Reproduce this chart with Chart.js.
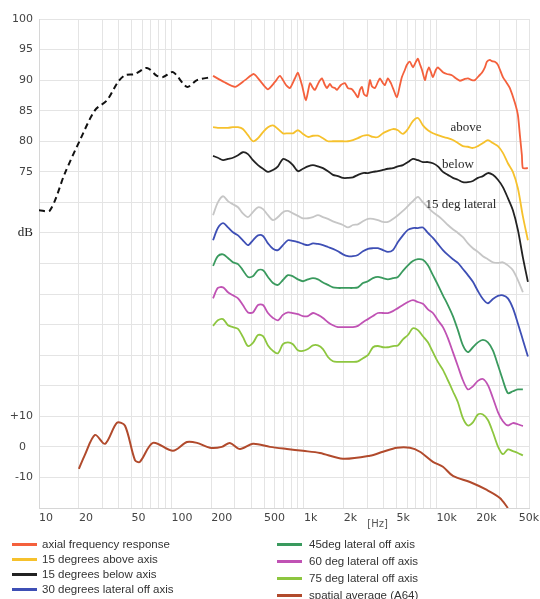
<!DOCTYPE html>
<html>
<head>
<meta charset="utf-8">
<script src="https://cdn.jsdelivr.net/npm/chart.js@4.4.1/dist/chart.umd.min.js"></script>
<style>
  body { margin: 0; background: #fff; }
  #wrap { position: relative; width: 540px; height: 599px; overflow: hidden; }
  #chart { position: absolute; left: 0; top: 0; }
  .legend-col { position: absolute; font: 11.5px 'Liberation Sans', Arial, sans-serif; color: #333; }
  .legend-item { display: flex; align-items: center; white-space: nowrap; }
  .swatch { display: inline-block; width: 25px; height: 3px; }
</style>
</head>
<body>
<div id="wrap">
  <canvas id="chart" width="540" height="599"></canvas>
  <div id="legend-left" class="legend-col" style="left:12px; top:537px; line-height:15px;"></div>
  <div id="legend-right" class="legend-col" style="left:277px; top:536px; line-height:17px;"></div>
</div>
<script>
// low frequency part (dashed, no label)
const lowFreq = [10, 12.1, 15.7, 20.4, 26.5, 32.6, 39.5, 44.6, 53, 65.3, 77.7, 86.3, 102.6, 130.9, 155.8, 202];
const lowDb = [68.7, 68.7, 74.8, 80.2, 85.1, 86.7, 89.7, 90.8, 91.0, 92.0, 90.7, 90.5, 91.3, 88.9, 90.0, 90.5];

// axial response, own sampling (lots of ripple)
const axialFreq = [206, 249, 302, 359, 419, 482, 535, 604, 659, 732,
  784, 855, 901, 966, 1035, 1110, 1170, 1211, 1298, 1367,
  1440, 1492, 1571, 1627, 1714, 1775, 1902, 2039, 2149, 2303,
  2426, 2556, 2647, 2740, 2838, 2989, 3148, 3260, 3434, 3619,
  3746, 3948, 4087, 4305, 4535, 4696, 5034, 5307, 5491, 5785,
  5990, 6310, 6646, 7003, 7252, 7508, 7775, 8190, 8479, 8780,
  9090, 9410, 9913, 10260, 11200, 12000, 13090, 14040, 15040, 16410,
  17290, 18530, 19530, 20940, 22050, 23230, 24050, 25350, 26240, 27630,
  29130, 31760, 34050, 35860, 39120, 41220, 42680, 44190, 44960, 49050];
const axialDb = [90.7, 89.7, 88.9, 90.0, 91.0, 89.5, 88.5, 89.7, 90.7, 89.2,
  88.7, 90.3, 91.2, 89.2, 86.7, 89.5, 88.7, 88.4, 89.7, 90.3,
  89.2, 88.7, 89.4, 88.9, 88.7, 88.4, 89.2, 89.5, 88.7, 88.5,
  87.9, 87.2, 88.4, 88.9, 87.7, 87.4, 90.0, 89.0, 88.7, 89.7,
  90.3, 89.5, 89.2, 90.3, 89.5, 88.7, 87.2, 89.2, 90.5, 91.7,
  92.5, 93.0, 92.1, 93.0, 93.5, 92.6, 91.7, 90.0, 91.3, 92.1,
  91.3, 90.5, 91.7, 92.1, 91.3, 91.0, 90.8, 90.3, 89.9, 90.2,
  90.3, 90.0, 90.0, 90.7, 91.2, 92.1, 93.0, 93.3, 93.1, 93.0,
  92.5, 90.5, 89.5, 88.7, 86.3, 84.3, 81.0, 77.7, 75.6, 75.6];

// shared frequencies for the off-axis curves
const hiFreq = [206, 224, 245, 267, 291, 318, 346, 378,
  412, 450, 491, 535, 584, 637, 694, 757,
  826, 901, 983, 1072, 1170, 1276, 1392, 1518,
  1656, 1806, 1970, 2149, 2344, 2556, 2789, 3042,
  3318, 3619, 3948, 4305, 4696, 5122, 5588, 6095,
  6646, 7252, 7910, 8627, 9410, 10260, 11200, 12210,
  13320, 14530, 15850, 17290, 18860, 20570, 22440, 24470,
  26690, 29130, 31760, 34640, 37790, 41220, 44960, 49050];

const aboveDb = [82.3, 82.2, 82.2, 82.2, 82.3, 82.3, 82.0, 81.0,
  80.0, 80.5, 81.5, 82.3, 82.6, 82.0, 81.3, 81.3,
  81.3, 81.8, 81.2, 80.7, 80.9, 80.9, 80.5, 80.0,
  80.0, 80.0, 80.0, 80.0, 80.2, 80.5, 80.9, 81.0,
  80.7, 80.7, 81.3, 81.7, 82.0, 81.8, 81.2, 82.0,
  83.3, 83.8, 82.6, 81.8, 81.3, 81.0, 80.7, 80.5,
  80.2, 79.7, 79.2, 79.1, 78.9, 79.2, 79.7, 80.2,
  79.7, 79.2, 78.1, 76.4, 75.0, 72.3, 67.7, 63.8];

const belowDb = [77.6, 77.3, 76.9, 77.1, 77.3, 77.7, 78.2, 77.9,
  76.9, 76.1, 75.5, 75.0, 75.3, 75.9, 77.1, 76.8,
  76.1, 75.1, 75.5, 75.9, 76.1, 75.9, 75.6, 75.1,
  74.5, 74.3, 74.0, 74.0, 74.1, 74.5, 74.8, 74.8,
  75.0, 75.1, 75.3, 75.5, 75.6, 75.9, 76.1, 76.6,
  77.1, 76.9, 76.6, 76.6, 76.4, 75.9, 75.0, 74.5,
  74.0, 73.7, 73.3, 73.3, 73.5, 74.0, 74.3, 74.8,
  74.5, 73.7, 72.5, 70.7, 68.7, 65.5, 61.0, 57.0];

const lat15Db = [67.9, 70.0, 71.0, 70.2, 69.7, 69.2, 68.2, 67.6,
  68.4, 69.2, 68.9, 67.9, 67.1, 67.6, 68.4, 68.6,
  68.2, 67.8, 67.4, 67.4, 67.6, 67.9, 67.6, 67.3,
  66.9, 66.6, 66.3, 65.9, 66.3, 66.4, 66.9, 67.3,
  67.3, 67.1, 66.8, 66.8, 67.3, 67.9, 68.6, 69.4,
  70.2, 70.9, 70.0, 69.2, 68.4, 67.8, 67.1, 66.3,
  65.6, 65.0, 64.3, 63.3, 62.5, 61.9, 61.2, 60.7,
  60.2, 60.1, 60.2, 59.7, 58.9, 57.3, 55.3, null];

const lat30Db = [63.8, 65.8, 66.6, 65.9, 65.1, 64.6, 63.8, 63.0,
  63.8, 64.6, 64.5, 63.3, 62.4, 62.2, 63.0, 63.8,
  63.7, 63.5, 63.2, 63.0, 63.3, 63.2, 63.0, 62.7,
  62.4, 62.0, 61.5, 61.2, 61.2, 61.4, 62.0, 62.4,
  62.5, 62.5, 62.2, 61.9, 62.2, 63.5, 64.6, 65.5,
  65.8, 65.8, 65.9, 65.0, 64.2, 63.2, 62.2, 61.4,
  60.7, 60.1, 59.1, 58.1, 57.0, 55.5, 54.2, 53.5,
  54.2, 54.7, 54.8, 54.3, 52.7, 50.2, 47.5, 44.8];

const lat45Db = [59.6, 61.2, 61.5, 60.9, 60.2, 59.9, 58.9, 57.8,
  57.9, 58.9, 58.9, 57.8, 56.8, 56.5, 57.3, 58.1,
  57.9, 57.4, 57.1, 57.4, 57.6, 57.4, 56.9, 56.5,
  56.1, 56.0, 56.0, 56.0, 56.0, 56.1, 56.8, 57.1,
  57.6, 57.8, 57.6, 57.4, 57.6, 57.8, 58.8, 59.7,
  60.4, 60.7, 60.6, 59.7, 58.1, 56.5, 54.8, 53.2,
  51.4, 49.1, 46.6, 45.5, 46.3, 47.1, 47.5, 47.1,
  45.8, 43.4, 40.9, 38.8, 39.1, 39.4, 39.4, null];

const lat60Db = [54.3, 56.0, 56.1, 55.3, 54.8, 54.3, 53.2, 52.0,
  52.0, 53.2, 53.2, 51.9, 51.1, 50.7, 51.6, 52.0,
  51.9, 51.7, 51.4, 51.4, 51.9, 51.6, 51.1, 50.4,
  49.9, 49.6, 49.6, 49.6, 49.6, 49.8, 50.4, 50.9,
  51.4, 51.9, 51.9, 51.9, 52.2, 52.7, 53.2, 53.7,
  54.0, 53.7, 53.4, 52.5, 51.9, 50.7, 49.6, 47.8,
  45.5, 43.2, 40.9, 39.4, 39.9, 40.8, 41.1, 40.1,
  38.0, 35.7, 34.2, 33.5, 33.9, 33.7, 33.4, null];

const lat75Db = [49.8, 50.7, 50.9, 49.9, 49.6, 49.3, 48.0, 46.5,
  47.0, 48.3, 48.1, 46.6, 45.7, 45.3, 46.8, 47.1,
  46.8, 45.8, 45.7, 46.0, 46.6, 46.6, 46.0, 44.7,
  44.0, 43.9, 43.9, 43.9, 43.9, 44.0, 44.5, 45.0,
  46.3, 46.5, 46.3, 46.3, 46.5, 46.6, 47.6, 48.3,
  49.4, 49.1, 48.1, 47.1, 45.5, 43.9, 42.6, 40.9,
  39.1, 37.3, 34.7, 33.5, 34.0, 35.3, 35.3, 34.4,
  32.4, 30.1, 28.8, 29.6, 29.3, 29.0, 28.6, null];

// spatial average, relative dB (own scale: +10 / 0 / -10)
const avgFreq = [20, 22.2, 26.5, 31.5, 38.8, 44.6, 53, 57.8, 72.5, 102.6,
  130.9, 155.8, 195, 240, 276, 329, 412, 554, 744, 983,
  1321, 1970, 3148, 3948, 5034, 6310, 7508, 9410, 11200, 13320,
  17910, 24050, 30130, 34640];
const avgDb = [-7.2, -2.6, 3.9, 1.0, 7.9, 6.9, -4.3, -4.9, 1.3, -1.3,
  1.6, 1.3, -0.3, 0, 1.3, -0.7, 1.0, 0, -0.7, -1.3,
  -2.0, -3.9, -2.9, -1.6, -0.3, -0.3, -1.6, -4.9, -6.5, -9.5,
  -11.5, -14.1, -16.7, -20];

// axis labels
const xTickValues = [10, 20, 50, 100, 200, 500, 1000, 2000, 5000, 10000, 20000, 50000];
const xTickLabels = ['10', '20', '50', '100', '200', '500', '1k', '2k', '5k', '10k', '20k', '50k'];
const yTickValues = [100, 95, 90, 85, 80, 75, 65, 35, 30, 25];
const yTickLabels = ['100', '95', '90', '85', '80', '75', 'dB', '+10', '0\u2007', '-10'];

// text written next to three curves
const noteText = ['above', 'below', '15 deg lateral'];
const noteFreq = [16700, 14530, 15310];
const noteDb = [82.3, 76.2, 69.7];

const seriesNames = ['axial frequency response', '15 degrees above axis', '15 degrees below axis',
  '30 degrees lateral off axis', '45deg lateral off axis', '60 deg lateral off axis',
  '75 deg lateral off axis', 'spatial average (A64)', '15 deg lateral'];
const seriesColors = ['#f4603c', '#f6c12c', '#222222', '#3e4fb5', '#3a9a5e', '#c052b4', '#8dc63f', '#b14a2c', '#c6c6c6'];

function pts(freqs, vals) {
    return freqs.map((f, i) => ({ x: f, y: vals[i] })).filter(p => p.y !== null);
}

// grid lines at 1..9 of every decade
const gridValues = [];
for (let d = 10; d <= 10000; d *= 10) {
    for (let m = 1; m <= 9; m++) {
        if (m * d <= 50000) gridValues.push(m * d);
    }
}

const overlayText = {
    id: 'overlayText',
    afterDatasetsDraw(chart) {
        const { ctx, scales: { x, y } } = chart;
        ctx.save();
        ctx.fillStyle = '#2a2a2a';
        ctx.font = "13px 'Liberation Serif', 'Times New Roman', serif";
        ctx.textAlign = 'center';
        ctx.textBaseline = 'middle';
        noteText.forEach((t, i) => {
            ctx.fillText(t, x.getPixelForValue(noteFreq[i]), y.getPixelForValue(noteDb[i]));
        });
        // last x label sits flush with the right edge
        ctx.fillStyle = '#444';
        ctx.font = "11px 'DejaVu Sans', sans-serif";
        ctx.textAlign = 'right';
        ctx.fillText(xTickLabels[xTickLabels.length - 1], chart.width - 1, x.top + 10);
        ctx.fillStyle = '#555';
        ctx.font = "10px 'DejaVu Sans', sans-serif";
        ctx.textAlign = 'center';
        ctx.fillText('[Hz]', x.getPixelForValue(3600), x.top + 16);
        ctx.restore();
    }
};

const lineDefaults = { pointRadius: 0, borderWidth: 1.8, tension: 0.3, fill: false };

const ctx = document.getElementById('chart').getContext('2d');
const chart = new Chart(ctx, {
    type: 'line',
    data: {
        datasets: [
            Object.assign({ label: seriesNames[0], data: pts(axialFreq, axialDb), borderColor: seriesColors[0] }, lineDefaults, { tension: 0.2 }),
            Object.assign({ label: seriesNames[1], data: pts(hiFreq, aboveDb), borderColor: seriesColors[1] }, lineDefaults),
            Object.assign({ label: seriesNames[2], data: pts(hiFreq, belowDb), borderColor: seriesColors[2] }, lineDefaults),
            Object.assign({ label: seriesNames[8], data: pts(hiFreq, lat15Db), borderColor: seriesColors[8] }, lineDefaults),
            Object.assign({ label: seriesNames[3], data: pts(hiFreq, lat30Db), borderColor: seriesColors[3] }, lineDefaults),
            Object.assign({ label: seriesNames[4], data: pts(hiFreq, lat45Db), borderColor: seriesColors[4] }, lineDefaults),
            Object.assign({ label: seriesNames[5], data: pts(hiFreq, lat60Db), borderColor: seriesColors[5] }, lineDefaults),
            Object.assign({ label: seriesNames[6], data: pts(hiFreq, lat75Db), borderColor: seriesColors[6] }, lineDefaults),
            Object.assign({ label: 'low', data: pts(lowFreq, lowDb), borderColor: '#111', borderDash: [6, 4] }, lineDefaults, { borderWidth: 2 }),
            Object.assign({ label: seriesNames[7], data: pts(avgFreq, avgDb), borderColor: seriesColors[7], yAxisID: 'y2' }, lineDefaults, { borderWidth: 2 })
        ]
    },
    options: {
        responsive: false,
        animation: false,
        layout: { padding: { top: 19, right: 11, bottom: 0, left: 0 } },
        plugins: {
            legend: { display: false },
            tooltip: { enabled: false }
        },
        scales: {
            x: {
                type: 'logarithmic',
                min: 10,
                max: 50000,
                afterBuildTicks: (scale) => {
                    scale.ticks = gridValues.map(v => ({ value: v }));
                },
                afterFit: (scale) => {
                    scale.height = 91;
                    scale.paddingLeft = 0;
                    scale.paddingRight = 0;
                },
                grid: { color: '#e4e4e4', drawTicks: false },
                border: { color: '#d6d6d6' },
                ticks: {
                    autoSkip: false,
                    maxRotation: 0,
                    minRotation: 0,
                    align: 'start',
                    padding: 4,
                    color: '#444',
                    font: { family: "'DejaVu Sans', sans-serif", size: 11 },
                    callback: (value) => {
                        const i = xTickValues.indexOf(value);
                        // 50k is drawn by the overlay plugin
                        return (i >= 0 && i < xTickValues.length - 1) ? xTickLabels[i] : '';
                    }
                }
            },
            y: {
                min: 20,
                max: 100,
                afterFit: (scale) => {
                    scale.width = 39;
                    scale.paddingTop = 0;
                    scale.paddingBottom = 0;
                },
                grid: { color: '#e4e4e4', drawTicks: false },
                border: { color: '#d6d6d6' },
                ticks: {
                    stepSize: 5,
                    autoSkip: false,
                    padding: 6,
                    color: (c) => (c.tick && c.tick.value === 65) ? '#222' : '#444',
                    font: (c) => (c.tick && c.tick.value === 65)
                        ? { family: "'Liberation Serif', serif", size: 13 }
                        : { family: "'DejaVu Sans', sans-serif", size: 11 },
                    callback: (value) => {
                        const i = yTickValues.indexOf(value);
                        return i >= 0 ? yTickLabels[i] : '';
                    }
                }
            },
            y2: {
                display: false,
                min: -20,
                max: 140
            }
        }
    },
    plugins: [overlayText]
});

// Two column legend under the chart
function buildLegend() {
    const cols = [
        { el: document.getElementById('legend-left'), idx: [0, 1, 2, 3], gap: 5 },
        { el: document.getElementById('legend-right'), idx: [4, 5, 6, 7], gap: 7 }
    ];
    cols.forEach(col => {
        col.idx.forEach(i => {
            const item = document.createElement('div');
            item.className = 'legend-item';

            const sw = document.createElement('span');
            sw.className = 'swatch';
            sw.style.backgroundColor = seriesColors[i];
            sw.style.marginRight = col.gap + 'px';

            const label = document.createElement('span');
            label.textContent = seriesNames[i];

            item.appendChild(sw);
            item.appendChild(label);
            col.el.appendChild(item);
        });
    });
}
buildLegend();
</script>
</body>
</html>
